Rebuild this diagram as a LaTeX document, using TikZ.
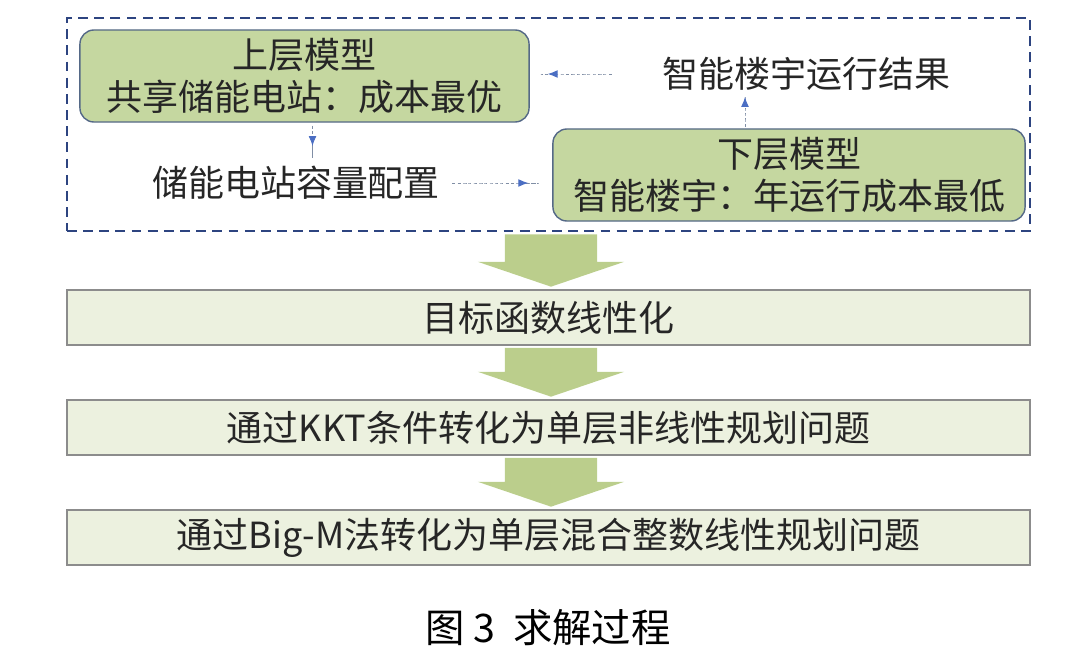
\documentclass[tikz,border=0pt]{standalone}
\usepackage{fontspec}
\setmainfont{Noto Sans CJK SC}
\usepackage{tikz}
\usetikzlibrary{calc,arrows.meta}
\definecolor{leafgreen}{RGB}{197,215,160}
\definecolor{palegreen}{RGB}{236,241,223}
\definecolor{arrowgreen}{RGB}{187,206,140}
\definecolor{modelline}{RGB}{85,105,135}
\definecolor{framenavy}{RGB}{45,68,128}
\definecolor{arrowblue}{RGB}{75,110,195}

\begin{document}
\begin{tikzpicture}[x=0.025cm,y=-0.025cm]
\tikzstyle{model}=[rectangle,rounded corners=0.35cm,draw=modelline,fill=leafgreen,line width=1pt,inner sep=0pt,minimum height=2.3cm,align=center,text=black!85,font=\fontsize{25.6}{30}\selectfont]
\tikzstyle{stepbox}=[rectangle,draw=black!45,fill=palegreen,line width=1.3pt,inner sep=0pt,minimum width=24.075cm,minimum height=1.375cm,text=black!85,font=\fontsize{25.6}{30}\selectfont]
\tikzstyle{note}=[inner sep=0pt,text=black!85,font=\fontsize{25.6}{30}\selectfont]
\tikzstyle{dasharrow}=[-{Latex[length=7pt,width=5.5pt,color=arrowblue]},dash pattern=on 2.2pt off 1.6pt,line width=0.6pt,draw=modelline!75]
\tikzstyle{frameline}=[rectangle,draw=framenavy,line width=1.8pt,dash pattern=on 7pt off 4.5pt,inner sep=0pt]
\useasboundingbox (0,0) rectangle (1072,657);

% Two-level model inside the dashed frame
\node (frame) [frameline,minimum width=24.075cm,minimum height=5.325cm] at (548.5,124.5) {};
\node (up) [model,minimum width=11.225cm] at (304.5,76) {上层模型\\共享储能电站：成本最优};
\node (low) [model,minimum width=11.8cm] at (789,175) {下层模型\\智能楼宇：年运行成本最低};
\node (res) [note] at (806,74) {智能楼宇运行结果};
\node (cap) [note] at (296,183) {储能电站容量配置};

\draw[dasharrow,shorten <=1.25cm,shorten >=0.45cm] (res.west) .. controls +(left:0mm) and +(right:0mm) .. (up.east |- res.west);
\draw[dasharrow,shorten <=0.3cm,shorten >=0.6cm] (cap.east) .. controls +(right:0mm) and +(left:0mm) .. (low.west |- cap.east);
\draw[dasharrow,shorten <=2pt,shorten >=0.5cm] ([xshift=0.2cm]up.south) .. controls +(down:0mm) and +(up:0mm) .. ([xshift=0.2cm]up.south |- cap.north);
\draw[dasharrow,shorten <=1pt,shorten >=0.15cm] ([xshift=-1.1cm]low.north) .. controls +(up:0mm) and +(down:0mm) .. ([xshift=-1.1cm]low.north |- res.south);

% Solution steps
\node (B1) [stepbox] at (548.5,317.5) {目标函数线性化};
\node (B2) [stepbox] at (548.5,427.5) {通过KKT条件转化为单层非线性规划问题};
\node (B3) [stepbox] at (548.5,537.5) {通过Big-M法转化为单层混合整数线性规划问题};

\foreach \a/\b in {frame/B1,B1/B2,B2/B3}
  \fill[arrowgreen] let \p1=($(\a.south)+(2.5,0)$), \p2=(\b.north) in
    (\x1-1.15cm,\y1-0.05cm) -- (\x1+1.15cm,\y1-0.05cm) -- (\x1+1.15cm,\y2+0.68cm)
    -- (\x1+1.825cm,\y2+0.68cm) -- (\x1,\y2+0.06cm) -- (\x1-1.825cm,\y2+0.68cm)
    -- (\x1-1.15cm,\y2+0.68cm) -- cycle;

% Caption
\node (title) [inner sep=0pt,font=\fontsize{28}{32}\selectfont] at (548,628) {图 3\ \ 求解过程};
\end{tikzpicture}
\end{document}
